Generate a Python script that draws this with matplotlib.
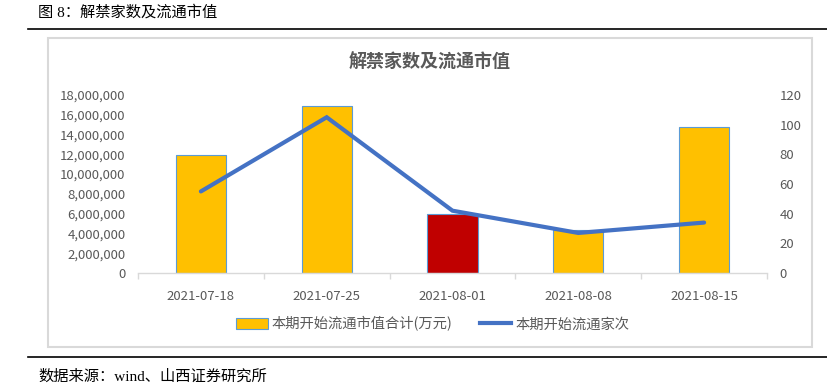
import matplotlib
matplotlib.use("Agg")
import matplotlib.pyplot as plt
from matplotlib.patches import Rectangle, Patch
from matplotlib.lines import Line2D
from matplotlib.ticker import FuncFormatter, MultipleLocator
import numpy as np

plt.rcParams['font.family'] = ['Noto Sans CJK SC', 'DejaVu Sans']

# data
dates = ['2021-07-18', '2021-07-25', '2021-08-01', '2021-08-08', '2021-08-15']
market_value = [11_900_000, 16_900_000, 5_920_000, 4_320_000, 14_790_000]  # 万元
listed_count = [55, 105, 42, 27, 34]
highlight_date = '2021-08-01'

bar_label = '本期开始流通市值合计(万元)'
line_label = '本期开始流通家次'
chart_title = '解禁家数及流通市值'
header = '图 8：解禁家数及流通市值'
source = '数据来源：wind、山西证券研究所'

W, H = 827, 386
YELLOW = '#FFC000'
RED = '#C00000'
BLUE = '#4472C4'
EDGE = '#5B9BD5'
GRAY = '#595959'
AXIS = '#D9D9D9'


def fx(px):
    return px / W


def fy(py):
    return 1 - py / H


fig = plt.figure(figsize=(W / 100, H / 100), dpi=100)

# header / footer rules and the chart frame
serif_cjk = ['Liberation Serif', 'Noto Sans CJK SC']
fig.text(fx(38), fy(12), header, fontsize=11, va='center', ha='left', family=serif_cjk)
fig.add_artist(Line2D([fx(28), fx(827)], [fy(29), fy(29)], color='black', lw=1.2))
fig.add_artist(Line2D([fx(28), fx(827)], [fy(357), fy(357)], color='black', lw=1.2))
fig.text(fx(38), fy(377), source, fontsize=11, va='center', ha='left', family=serif_cjk)
fig.add_artist(Rectangle((fx(48), fy(347)), fx(812) - fx(48), fy(38) - fy(347),
                         fill=False, edgecolor=AXIS, lw=1.5))

fig.text(fx(430), fy(62), chart_title, fontsize=13, fontweight='bold', color=GRAY,
         ha='center', va='center')

ax = fig.add_axes([fx(138), fy(273), fx(767) - fx(138), fy(95) - fy(273)])
ax2 = ax.twinx()

x = np.arange(len(dates))
colors = [RED if d == highlight_date else YELLOW for d in dates]
ax.bar(x, market_value, width=0.4, color=colors, edgecolor=EDGE, lw=0.8, zorder=2)
ax2.plot(x, listed_count, color=BLUE, lw=3, solid_capstyle='round', solid_joinstyle='miter')

ax.set_xlim(-0.5, len(dates) - 0.5)
ax.set_ylim(0, 18_000_000)
ax.yaxis.set_major_locator(MultipleLocator(2_000_000))
ax.yaxis.set_major_formatter(FuncFormatter(lambda v, p: f'{int(v):,}'))
ax2.set_ylim(0, 120)
ax2.yaxis.set_major_locator(MultipleLocator(20))

ax.set_xticks(x)
ax.set_xticklabels(dates)
ax.set_xticks(np.arange(-0.5, len(dates), 1.0), minor=True)
ax.tick_params(axis='x', which='major', length=0, pad=12, labelsize=9.5, labelcolor=GRAY)
ax.tick_params(axis='x', which='minor', length=4, color=AXIS, width=1)
ax.tick_params(axis='y', length=0, pad=9, labelsize=9.5, labelcolor=GRAY)
ax2.tick_params(axis='y', length=0, pad=9, labelsize=9.5, labelcolor=GRAY)

for a in (ax, ax2):
    for side in ('top', 'left', 'right'):
        a.spines[side].set_visible(False)
    a.spines['bottom'].set_color(AXIS)
    a.spines['bottom'].set_linewidth(1)
ax2.spines['bottom'].set_visible(False)

handles = [Patch(facecolor=YELLOW, edgecolor=EDGE, lw=0.8, label=bar_label),
           Line2D([0], [0], color=BLUE, lw=3, label=line_label)]
fig.legend(handles=handles, loc='center', bbox_to_anchor=(fx(433), fy(324)), ncol=2,
           frameon=False, fontsize=10.3, labelcolor=GRAY, handlelength=2.2,
           handleheight=0.8, handletextpad=0.3, columnspacing=1.9)

fig.savefig('out.png', dpi=100)
